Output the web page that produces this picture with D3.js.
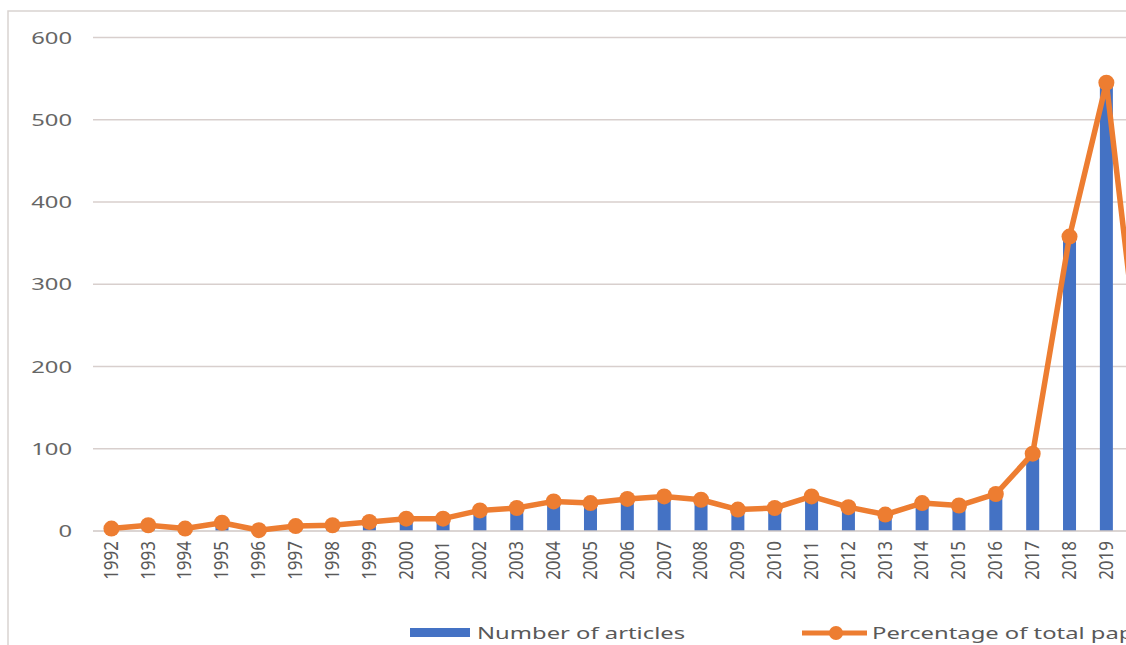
<!DOCTYPE html>
<html>
<head>
<meta charset="utf-8">
<script src="https://cdn.jsdelivr.net/npm/d3@7"></script>
<style>
  html, body { margin: 0; padding: 0; background: #fff; }
  svg { display: block; font-family: "Noto Sans", "Open Sans", sans-serif; }
</style>
</head>
<body>
<svg id="chart" width="1126" height="645"></svg>
<script>
// ---- data ----
const years = ["1992","1993","1994","1995","1996","1997","1998","1999","2000","2001",
  "2002","2003","2004","2005","2006","2007","2008","2009","2010","2011",
  "2012","2013","2014","2015","2016","2017","2018","2019","2020"];
const articles = [3,7,3,10,1,6,7,11,15,15,25,28,36,34,39,42,38,26,28,42,29,20,34,31,45,94,358,545,160];
const percentLine = [3,7,3,10,1,6,7,11,15,15,25,28,36,34,39,42,38,26,28,42,29,20,34,31,45,94,358,545,160];
const yTicks = [0,100,200,300,400,500,600];
const legendLabels = ["Number of articles", "Percentage of total papers"];

// ---- layout ----
const svg = d3.select("#chart");
const W = 1126, H = 645;
const plotLeft = 93, step = 36.85;
const x = d3.scaleBand().domain(years)
  .range([plotLeft, plotLeft + step * years.length])
  .paddingInner(0.647).paddingOuter(0.3235);
const xc = d => x(d) + x.bandwidth() / 2;
const y = d3.scaleLinear().domain([0, 600]).range([531, 37.5]);

const blue = "#4472C4", orange = "#ED7D31";

// frame
svg.append("rect").attr("x", 8).attr("y", 11).attr("width", W).attr("height", H)
  .attr("fill", "#fff").attr("stroke", "#d9d3d1").attr("stroke-width", 1.5);

// gridlines
svg.append("g").selectAll("line").data(yTicks.filter(t => t > 0)).join("line")
  .attr("x1", plotLeft).attr("x2", W)
  .attr("y1", d => y(d)).attr("y2", d => y(d))
  .attr("stroke", "#d8cfcd").attr("stroke-width", 1.6);

// y labels
svg.append("g").selectAll("text").data(yTicks).join("text")
  .attr("transform", d => `translate(72,${y(d)}) scale(1.4,1)`)
  .attr("text-anchor", "end").attr("dy", "0.36em")
  .attr("font-size", 17).attr("fill", "#666")
  .text(d => d);

// bars
svg.append("g").selectAll("rect").data(years).join("rect")
  .attr("x", d => x(d))
  .attr("width", x.bandwidth())
  .attr("y", (d, i) => y(articles[i]))
  .attr("height", (d, i) => y(0) - y(articles[i]))
  .attr("fill", blue);

// baseline
svg.append("line").attr("x1", plotLeft).attr("x2", W)
  .attr("y1", y(0)).attr("y2", y(0))
  .attr("stroke", "#cfc7c5").attr("stroke-width", 1.6);

// line
const line = d3.line().x((d, i) => xc(years[i])).y(d => y(d));
svg.append("path").datum(percentLine)
  .attr("d", line).attr("fill", "none")
  .attr("stroke", orange).attr("stroke-width", 5.5).attr("stroke-linejoin", "round");
svg.append("g").selectAll("circle").data(percentLine).join("circle")
  .attr("cx", (d, i) => xc(years[i])).attr("cy", d => y(d))
  .attr("r", 8).attr("fill", orange);

// x labels (only those inside the visible area, as in the cropped reference)
svg.append("g").selectAll("text").data(years.filter(d => xc(d) + 10 < W)).join("text")
  .attr("transform", d => `translate(${xc(d) - 1},541) scale(1.2,1) rotate(-90)`)
  .attr("text-anchor", "end").attr("dy", "0.36em")
  .attr("font-size", 17).attr("fill", "#595959")
  .text(d => d);

// legend
const lg = svg.append("g");
lg.append("rect").attr("x", 410).attr("y", 628).attr("width", 60).attr("height", 9).attr("fill", blue);
lg.append("text").attr("transform", "translate(477,639) scale(1.4,1)")
  .attr("font-size", 17).attr("fill", "#595959").text(legendLabels[0]);
lg.append("line").attr("x1", 802).attr("x2", 867).attr("y1", 633).attr("y2", 633)
  .attr("stroke", orange).attr("stroke-width", 5);
lg.append("circle").attr("cx", 836).attr("cy", 633).attr("r", 7).attr("fill", orange);
lg.append("text").attr("transform", "translate(872,639) scale(1.4,1)")
  .attr("font-size", 17).attr("fill", "#595959").text(legendLabels[1]);
</script>
</body>
</html>
